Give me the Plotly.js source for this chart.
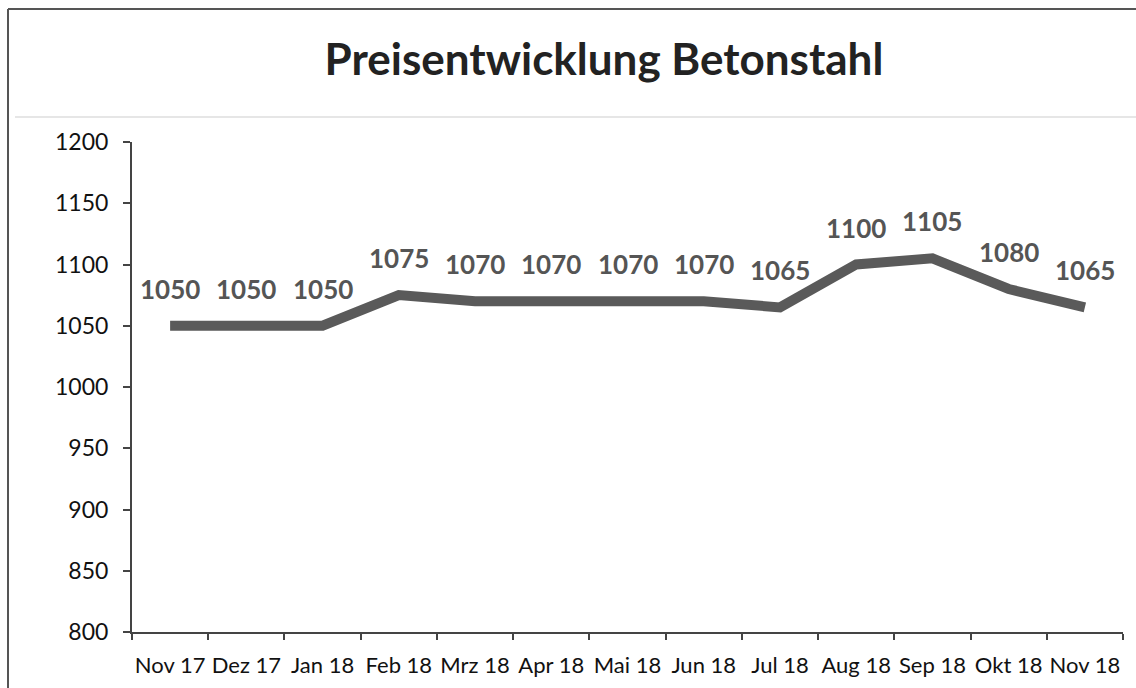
<!DOCTYPE html>
<html>
<head>
<meta charset="utf-8">
<script src="https://cdn.plot.ly/plotly-3.0.1.min.js"></script>
<style>html,body{margin:0;padding:0;background:#fff;}#chart{width:1136px;height:688px;}</style>
</head>
<body>
<div id="chart"></div>
<script>
const months = ["Nov 17","Dez 17","Jan 18","Feb 18","Mrz 18","Apr 18","Mai 18","Jun 18","Jul 18","Aug 18","Sep 18","Okt 18","Nov 18"];
const prices = [1050,1050,1050,1075,1070,1070,1070,1070,1065,1100,1105,1080,1065];
const yTicks = [800,850,900,950,1000,1050,1100,1150,1200];
const chartTitle = "Preisentwicklung Betonstahl";

const W = 1136, H = 688;
const margin = {l:132, r:13, t:142, b:56};
const pw = W - margin.l - margin.r, ph = H - margin.t - margin.b;
const px = x => (x - margin.l) / pw;
const py = y => 1 - (y - margin.t) / ph;

const annotations = months.map((m, i) => ({
  x: m, y: prices[i], xref: 'x', yref: 'y',
  text: '<b>' + prices[i] + '</b>', showarrow: false,
  yshift: 37, yanchor: 'middle',
  font: {family: 'Lato, sans-serif', size: 26, color: '#555555'}
}));

const trace = {
  x: months, y: prices, type: 'scatter', mode: 'lines',
  line: {color: '#5a5a5a', width: 10},
  hoverinfo: 'skip'
};

const layout = {
  width: W, height: H, margin: margin,
  paper_bgcolor: '#fff', plot_bgcolor: '#fff',
  showlegend: false,
  title: {
    text: '<b>' + chartTitle + '</b>',
    xref: 'container', yref: 'container',
    x: 604 / W, xanchor: 'center',
    y: 1 - 60 / H, yanchor: 'middle',
    font: {family: 'Lato, sans-serif', size: 44, color: '#222'}
  },
  xaxis: {
    type: 'category', range: [-0.5, 12.5],
    showgrid: false, zeroline: false,
    showline: true, linecolor: '#444', linewidth: 2,
    ticks: 'outside', tickson: 'boundaries', ticklen: 6, tickwidth: 2, tickcolor: '#444',
    tickangle: 0,
    ticklabelstandoff: 13,
    tickfont: {family: 'Lato, sans-serif', size: 22, color: '#111'},
    fixedrange: true
  },
  yaxis: {
    range: [800, 1200], tickvals: yTicks, ticktext: yTicks.map(String),
    showgrid: false, zeroline: false,
    showline: true, linecolor: '#444', linewidth: 2,
    ticks: 'outside', ticklen: 7, tickwidth: 2, tickcolor: '#444',
    ticklabelstandoff: 10,
    tickfont: {family: 'Lato, sans-serif', size: 23, color: '#111'},
    fixedrange: true
  },
  annotations: annotations,
  shapes: [
    {type: 'line', xref: 'paper', yref: 'paper', x0: px(8), x1: px(1136), y0: py(9), y1: py(9), line: {color: '#555', width: 2}},
    {type: 'line', xref: 'paper', yref: 'paper', x0: px(8), x1: px(8), y0: py(9), y1: py(688), line: {color: '#555', width: 2}},
    {type: 'line', xref: 'paper', yref: 'paper', x0: px(15), x1: px(1136), y0: py(117), y1: py(117), line: {color: '#e6e6e6', width: 2}}
  ]
};

Plotly.newPlot('chart', [trace], layout, {staticPlot: true, displayModeBar: false});
</script>
</body>
</html>
